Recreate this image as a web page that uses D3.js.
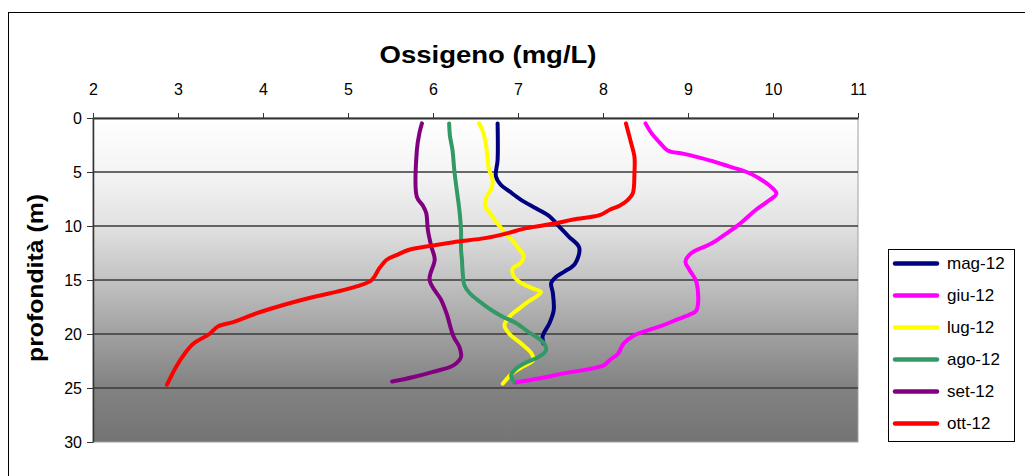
<!doctype html>
<html lang="it">
<head>
<meta charset="UTF-8">
<title>Ossigeno (mg/L)</title>
<style>
  body { margin: 0; background: #fff; }
  svg text { font-family: "Liberation Sans", Arial, sans-serif; fill: #000; }
</style>
</head>
<body>
<svg id="chart" width="1025" height="476"></svg>
<script src="https://d3js.org/d3.v7.min.js"></script>
<script>
// depth (m), oxygen (mg/L)
const mag12 = [[0.5,6.76],[3.9,6.76],[5.4,6.74],[6.2,6.80],[6.8,6.90],[7.6,7.04],[8.4,7.22],[9.1,7.37],[10.1,7.49],[11.0,7.60],[12.0,7.72],[13.5,7.67],[14.2,7.55],[14.7,7.45],[15.3,7.39],[16.2,7.41],[17.8,7.42],[19.0,7.37],[20.2,7.29],[20.9,7.30]];
const giu12 = [[0.5,8.50],[1.4,8.57],[2.3,8.67],[3.0,8.76],[3.3,8.94],[3.6,9.10],[4.0,9.29],[4.5,9.49],[5.0,9.69],[5.6,9.84],[6.4,9.98],[7.0,10.04],[7.6,9.96],[8.5,9.80],[9.8,9.61],[10.7,9.45],[11.6,9.28],[12.5,9.04],[13.3,8.97],[14.1,9.02],[15.2,9.10],[17.8,9.10],[18.2,9.02],[18.7,8.86],[19.3,8.67],[19.6,8.55],[20.2,8.35],[20.9,8.24],[21.8,8.18],[22.4,8.08],[22.9,8.01],[23.3,7.80],[23.6,7.57],[24.1,7.26],[24.5,6.96]];
const lug12 = [[0.5,6.54],[1.1,6.58],[2.3,6.62],[3.6,6.64],[4.8,6.66],[5.7,6.70],[6.5,6.69],[7.3,6.63],[8.1,6.61],[8.8,6.67],[9.8,6.76],[10.7,6.86],[11.6,6.96],[12.2,7.02],[12.8,7.07],[13.5,7.02],[13.9,6.94],[14.5,6.94],[15.2,7.02],[15.8,7.18],[16.1,7.27],[16.5,7.22],[17.0,7.12],[17.6,7.02],[18.4,6.90],[19.2,6.84],[20.0,6.90],[20.9,7.04],[21.8,7.16],[22.4,7.18],[23.0,7.06],[23.6,6.94],[24.6,6.82]];
const ago12 = [[0.5,6.19],[1.7,6.20],[3.0,6.23],[4.8,6.25],[6.7,6.28],[8.5,6.31],[10.4,6.33],[12.2,6.33],[13.1,6.34],[14.4,6.35],[15.5,6.37],[16.2,6.43],[17.0,6.55],[17.8,6.69],[18.4,6.82],[19.0,6.98],[19.8,7.12],[20.4,7.24],[20.9,7.31],[21.5,7.33],[22.1,7.25],[22.7,7.08],[23.2,6.98],[23.8,6.92],[24.4,6.95]];
const set12 = [[0.5,5.87],[1.4,5.84],[3.0,5.81],[7.3,5.81],[8.1,5.88],[8.8,5.92],[10.4,5.94],[11.9,5.98],[13.1,6.02],[15.0,5.96],[16.9,6.10],[18.1,6.16],[20.2,6.24],[21.2,6.31],[22.1,6.33],[22.9,6.24],[23.5,6.00],[24.0,5.76],[24.4,5.52]];
const ott12 = [[0.5,8.27],[1.1,8.29],[2.3,8.33],[3.6,8.37],[5.1,8.37],[7.0,8.35],[7.6,8.29],[8.1,8.20],[8.5,8.08],[9.0,7.96],[9.4,7.65],[9.8,7.41],[10.2,7.10],[10.7,6.86],[11.1,6.63],[11.5,6.24],[11.8,6.00],[12.2,5.72],[12.7,5.57],[13.1,5.46],[13.9,5.37],[15.0,5.28],[15.6,5.10],[16.1,4.86],[16.5,4.63],[16.9,4.43],[17.5,4.16],[18.1,3.92],[18.9,3.65],[19.3,3.47],[20.0,3.37],[20.9,3.18],[21.8,3.08],[23.0,2.98],[24.7,2.87]];

const seriesNames = ["mag-12", "giu-12", "lug-12", "ago-12", "set-12", "ott-12"];
const seriesData = [mag12, giu12, lug12, ago12, set12, ott12];
const seriesColors = ["#000080", "#ff00ff", "#ffff00", "#339966", "#800080", "#ff0000"];
const xTicks = [2, 3, 4, 5, 6, 7, 8, 9, 10, 11];
const yTicks = [0, 5, 10, 15, 20, 25, 30];

const svg = d3.select("#chart");
const plot = {left: 93, right: 858, top: 118, bottom: 442};

const x = d3.scaleLinear().domain([2, 11]).range([plot.left, plot.right]);
const y = d3.scaleLinear().domain([0, 30]).range([plot.top, plot.bottom]);

// outer chart frame
svg.append("rect")
    .attr("x", 8.5).attr("y", 12.5)
    .attr("width", 1030).attr("height", 480)
    .attr("fill", "#fff").attr("stroke", "#000").attr("stroke-width", 1);

// plot background gradient
const grad = svg.append("defs").append("linearGradient")
    .attr("id", "bg").attr("x1", 0).attr("y1", 0).attr("x2", 0).attr("y2", 1);
[[0, "#ffffff"], [0.17, "#f4f4f4"], [0.33, "#e2e2e2"], [0.5, "#c2c2c2"],
 [0.67, "#a0a0a0"], [0.83, "#828282"], [1, "#747474"]].forEach(function(s) {
    grad.append("stop").attr("offset", s[0]).attr("stop-color", s[1]);
});

svg.append("rect")
    .attr("x", plot.left).attr("y", plot.top)
    .attr("width", plot.right - plot.left).attr("height", plot.bottom - plot.top)
    .attr("fill", "url(#bg)")
    .attr("stroke", "#a0a0a0").attr("stroke-width", 1);

// horizontal gridlines
svg.append("g")
    .selectAll("line")
    .data(yTicks.filter(function(d) { return d > 0 && d < 30; }))
    .enter().append("line")
    .attr("x1", plot.left).attr("x2", plot.right)
    .attr("y1", function(d) { return y(d); }).attr("y2", function(d) { return y(d); })
    .attr("stroke", "#3a3a3a").attr("stroke-width", 1.3);

// top axis
const xAxis = svg.append("g")
    .attr("transform", "translate(0," + plot.top + ")")
    .call(d3.axisTop(x).tickValues(xTicks).tickSize(5).tickPadding(18).tickSizeOuter(0));
xAxis.select(".domain").attr("stroke", "#333").attr("stroke-width", 2);
xAxis.selectAll(".tick line").attr("stroke", "#333");
xAxis.selectAll("text").attr("font-size", "16px").attr("fill", "#000");

// left axis
const yAxis = svg.append("g")
    .attr("transform", "translate(" + plot.left + ",0)")
    .call(d3.axisLeft(y).tickValues(yTicks).tickSize(6).tickPadding(5).tickSizeOuter(0));
yAxis.select(".domain").attr("stroke", "#333").attr("stroke-width", 1.5);
yAxis.selectAll(".tick line").attr("stroke", "#333");
yAxis.selectAll("text").attr("font-size", "16px").attr("fill", "#000");

// titles
svg.append("text")
    .attr("x", 488).attr("y", 63)
    .attr("text-anchor", "middle")
    .attr("font-size", "23px").attr("font-weight", "bold")
    .attr("textLength", 217).attr("lengthAdjust", "spacingAndGlyphs")
    .text("Ossigeno (mg/L)");

svg.append("text")
    .attr("transform", "translate(43,278) rotate(-90)")
    .attr("text-anchor", "middle")
    .attr("font-size", "22px").attr("font-weight", "bold")
    .attr("textLength", 168).attr("lengthAdjust", "spacingAndGlyphs")
    .text("profondità (m)");

// profiles
const line = d3.line()
    .x(function(d) { return x(d[1]); })
    .y(function(d) { return y(d[0]); })
    .curve(d3.curveCatmullRom.alpha(0.5));

svg.append("g")
    .selectAll("path")
    .data(seriesData)
    .enter().append("path")
    .attr("d", line)
    .attr("fill", "none")
    .attr("stroke", function(d, i) { return seriesColors[i]; })
    .attr("stroke-width", 4)
    .attr("stroke-linecap", "round")
    .attr("stroke-linejoin", "round");

// legend
const legend = svg.append("g").attr("transform", "translate(888,249)");
legend.append("rect")
    .attr("x", 0.5).attr("y", 0.5).attr("width", 126).attr("height", 192)
    .attr("fill", "#fff").attr("stroke", "#000").attr("stroke-width", 1);

const items = legend.selectAll(".item")
    .data(seriesNames)
    .enter().append("g")
    .attr("class", "item")
    .attr("transform", function(d, i) { return "translate(0," + (14.5 + i * 32) + ")"; });
items.append("line")
    .attr("x1", 7).attr("x2", 49)
    .attr("stroke", function(d, i) { return seriesColors[i]; })
    .attr("stroke-width", 4.5).attr("stroke-linecap", "round");
items.append("text")
    .attr("x", 59).attr("dy", "0.35em")
    .attr("font-size", "17px")
    .text(function(d) { return d; });
</script>
</body>
</html>
